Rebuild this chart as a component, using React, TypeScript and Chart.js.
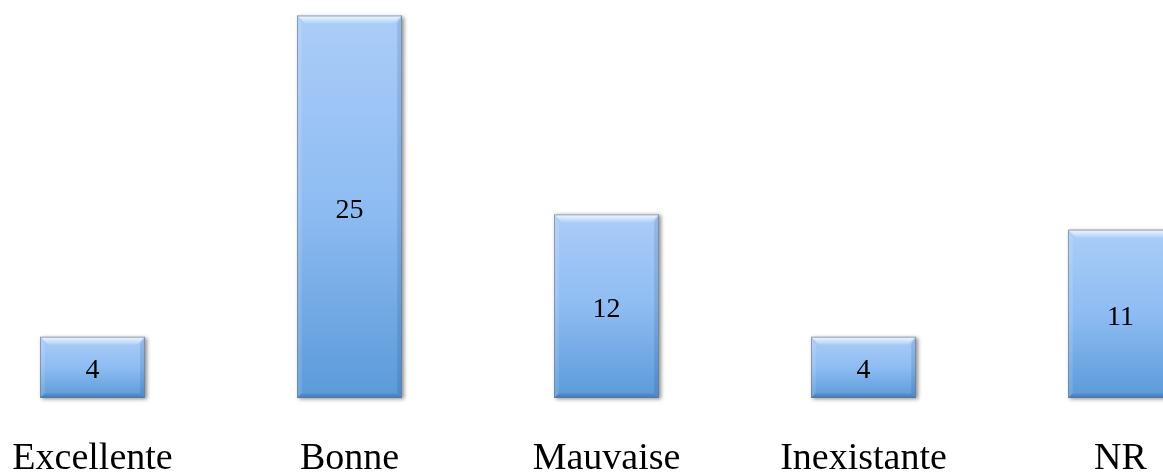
import React, { useEffect, useRef } from "react";
import { Chart, registerables } from "chart.js";

Chart.register(...registerables);

const categories: string[] = ["Excellente", "Bonne", "Mauvaise", "Inexistante", "NR"];
const values: number[] = [4, 25, 12, 4, 11];
const yMin = 0;
const yMax = 25;

const FONT = "'Liberation Serif', 'Times New Roman', serif";

const bevelPlugin = {
  id: "bevelBars",
  beforeDatasetsDraw(chart: any) {
    const ctx = chart.ctx;
    const meta = chart.getDatasetMeta(0);
    meta.data.forEach((bar: any) => {
      const { x, y, base, width } = bar.getProps(["x", "y", "base", "width"], true);
      const l = x - width / 2;
      ctx.save();
      ctx.shadowColor = "rgba(0,0,0,0.45)";
      ctx.shadowBlur = 4;
      ctx.shadowOffsetX = 2;
      ctx.shadowOffsetY = 1;
      ctx.fillStyle = "#7fb0e8";
      ctx.fillRect(l, y, width, base - y);
      ctx.restore();
    });
  },
  afterDatasetsDraw(chart: any) {
    const ctx = chart.ctx;
    const meta = chart.getDatasetMeta(0);
    meta.data.forEach((bar: any, i: number) => {
      const { x, y, base, width } = bar.getProps(["x", "y", "base", "width"], true);
      const l = x - width / 2;
      const r = x + width / 2;
      const t = y;
      const bt = base;
      const b = 8;
      ctx.save();
      // top highlight
      const gt = ctx.createLinearGradient(0, t, 0, t + b);
      gt.addColorStop(0, "rgba(255,255,255,0.85)");
      gt.addColorStop(1, "rgba(255,255,255,0.1)");
      ctx.fillStyle = gt;
      ctx.beginPath();
      ctx.moveTo(l, t);
      ctx.lineTo(r, t);
      ctx.lineTo(r - b, t + b);
      ctx.lineTo(l + b, t + b);
      ctx.closePath();
      ctx.fill();
      // left
      ctx.fillStyle = "rgba(255,255,255,0.12)";
      ctx.beginPath();
      ctx.moveTo(l, t);
      ctx.lineTo(l + b * 0.6, t + b);
      ctx.lineTo(l + b * 0.6, bt - b * 0.6);
      ctx.lineTo(l, bt);
      ctx.closePath();
      ctx.fill();
      // right
      ctx.fillStyle = "rgba(0,30,80,0.12)";
      ctx.beginPath();
      ctx.moveTo(r, t);
      ctx.lineTo(r - b * 0.6, t + b);
      ctx.lineTo(r - b * 0.6, bt - b * 0.6);
      ctx.lineTo(r, bt);
      ctx.closePath();
      ctx.fill();
      // bottom
      const gb = ctx.createLinearGradient(0, bt - b * 0.6, 0, bt);
      gb.addColorStop(0, "rgba(0,40,100,0.08)");
      gb.addColorStop(1, "rgba(0,40,100,0.3)");
      ctx.fillStyle = gb;
      ctx.beginPath();
      ctx.moveTo(l, bt);
      ctx.lineTo(l + b * 0.6, bt - b * 0.6);
      ctx.lineTo(r - b * 0.6, bt - b * 0.6);
      ctx.lineTo(r, bt);
      ctx.closePath();
      ctx.fill();
      // outline
      ctx.strokeStyle = "rgba(110,120,135,0.6)";
      ctx.lineWidth = 1;
      ctx.strokeRect(l + 0.5, t + 0.5, width - 1, bt - t - 1);
      // value label
      ctx.fillStyle = "#000";
      ctx.font = `28px ${FONT}`;
      ctx.textAlign = "center";
      ctx.textBaseline = "alphabetic";
      ctx.fillText(String(values[i]), x, (t + bt) / 2 + 11);
      ctx.restore();
    });
  },
};

export default function App() {
  const ref = useRef<HTMLCanvasElement>(null);
  useEffect(() => {
    if (!ref.current) return;
    const chart = new Chart(ref.current, {
      type: "bar",
      data: {
        labels: categories,
        datasets: [
          {
            data: values,
            backgroundColor: (c: any) => {
              const ch = c.chart;
              if (!ch.chartArea || c.raw === undefined) return "#8dbcf2";
              const y0 = ch.scales.y.getPixelForValue(yMin);
              const y1 = ch.scales.y.getPixelForValue(c.raw);
              const g = ch.ctx.createLinearGradient(0, y1, 0, y0);
              g.addColorStop(0, "#abcdf8");
              g.addColorStop(0.5, "#8ebcf2");
              g.addColorStop(1, "#5b9ad9");
              return g;
            },
            borderWidth: 0,
            categoryPercentage: 1,
            barPercentage: 105 / 257,
          },
        ],
      },
      options: {
        responsive: false,
        animation: false,
        layout: { padding: { top: 15.5, bottom: 0, left: 0, right: 0 } },
        plugins: { legend: { display: false }, tooltip: { enabled: false } },
        scales: {
          x: {
            grid: { display: false, drawTicks: false },
            border: { display: false },
            ticks: {
              color: "#000",
              font: { family: FONT, size: 38, lineHeight: 1 },
              padding: 42,
              maxRotation: 0,
              autoSkip: false,
            },
            afterFit: (s: any) => {
              s.height = 74;
            },
          },
          y: { display: false, min: yMin, max: yMax },
        },
      },
      plugins: [bevelPlugin],
    });
    return () => chart.destroy();
  }, []);
  return (
    <div style={{ position: "fixed", left: 0, top: 0, width: 1163, height: 472, overflow: "hidden", background: "#fff" }}>
      <div style={{ position: "absolute", left: -36, top: 0, width: 1285, height: 472 }}>
        <canvas ref={ref} width={1285} height={472} style={{ display: "block" }} />
      </div>
    </div>
  );
}
